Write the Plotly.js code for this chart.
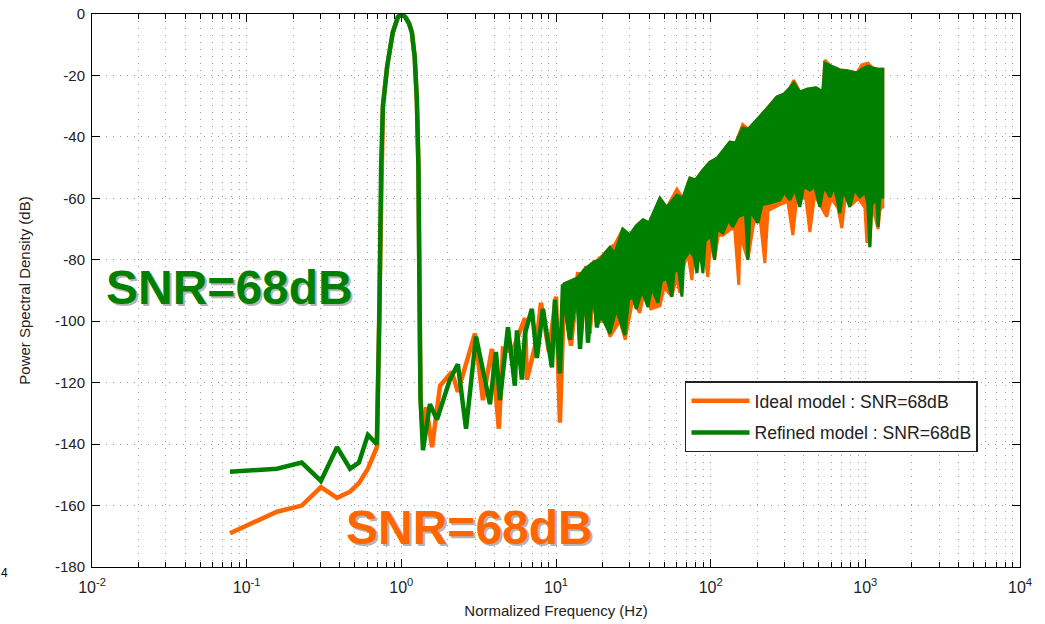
<!DOCTYPE html>
<html>
<head>
<meta charset="utf-8">
<script src="https://cdn.plot.ly/plotly-3.0.1.min.js"></script>
<style>html,body{margin:0;padding:0;background:#fff;}#chart{width:1045px;height:624px;}</style>
</head>
<body>
<div id="chart"></div>
<script>
// ---- Data ----
// Ideal model: line part (low frequencies, tone, sparse noise)
const idealFreq = [0.078, 0.157, 0.227, 0.302, 0.384, 0.466, 0.532, 0.608, 0.695, 0.72, 0.74, 0.76, 0.81, 0.88, 0.95, 1.0, 1.06, 1.12, 1.17, 1.22, 1.26, 1.29, 1.31, 1.33, 1.38, 1.45, 1.58, 1.78, 2.12, 2.32, 2.99, 3.37, 3.85, 4.27, 4.54, 5.2, 6.3, 6.48, 7.5, 8.0, 9.0, 10.0, 10.6, 11.3, 12.5, 13.9, 14.5, 15.7, 16.5, 17.8, 18.4, 19.2];
const idealPsd  = [-169, -162, -160, -154, -157.5, -155.5, -152.7, -148, -141, -100, -50, -30, -17, -6, -1, 0, -1, -3, -6, -14, -28, -50, -90, -125, -138, -128, -141, -121, -116.5, -123, -104, -125.7, -109, -135, -109, -110, -99, -119, -106, -94, -110, -92, -133, -90, -108, -84, -105, -82, -104, -80, -99, -79];
// Ideal model: dense band (upper and lower envelopes)
const idealTopFreq = [11.1, 13.7, 15.4, 17.3, 19.2, 22.3, 24, 27, 30, 33, 36.5, 40, 47, 52, 60.5, 66, 73.4, 80, 89.1, 98.9, 110, 133, 145, 161, 175, 199, 230, 268, 300, 325, 345, 377, 420, 480, 531, 547, 600, 684, 760, 881, 950, 1040, 1117, 1200, 1297];
const idealTopPsd  = [-88, -86, -83, -81, -79.5, -76, -75, -70, -72, -69, -67, -68, -60, -63, -57, -60, -53.4, -54, -50.8, -48.2, -47, -41.7, -42, -36, -37.5, -34.5, -31, -27, -26, -24.1, -21.5, -25.4, -24.5, -24, -25.4, -15, -17, -18.2, -18.5, -19.2, -16.5, -16, -17.6, -18, -18];
const idealBotFreq = [11.1, 12.5, 13.9, 14.5, 15.7, 16.5, 17.8, 18.4, 19.5, 20.7, 22.3, 25.9, 28, 31.4, 34.8, 37, 41, 47.0, 50, 56.1, 60, 63.2, 66, 71.3, 75.6, 78, 85.1, 90, 95.9, 100, 106, 112, 120, 135, 143, 152, 155, 174, 190, 208, 224, 235, 280, 315, 340, 360, 412, 438, 470, 508, 563, 600, 664, 705, 740, 818, 900, 993, 1023, 1038, 1069, 1102, 1210, 1241, 1276, 1297];
const idealBotPsd  = [-92, -108, -88, -105, -86, -104, -88, -99, -100, -98.6, -105, -100, -106, -93, -97.3, -91, -96, -95, -89, -92, -86, -90.8, -83, -78, -86.6, -78, -80, -76, -85.6, -74, -80, -72, -72, -70, -70, -88.2, -72, -80, -68, -66, -81.1, -64, -62, -61, -72, -60, -60, -71, -59, -62, -66, -60, -63, -69.7, -60, -62, -60, -63, -74.5, -62, -76, -62, -70, -64, -62.8, -62.8];

// Refined model: line part
const refinedFreq = [0.078, 0.157, 0.227, 0.302, 0.384, 0.466, 0.532, 0.608, 0.695, 0.72, 0.74, 0.76, 0.81, 0.88, 0.95, 1.0, 1.06, 1.12, 1.17, 1.22, 1.26, 1.29, 1.31, 1.33, 1.38, 1.53, 1.70, 2.06, 2.32, 2.62, 3.04, 3.74, 4.09, 4.34, 4.89, 5.42, 5.59, 6.02, 6.30, 6.98, 7.53, 8.23, 9.41, 9.84, 10.6, 11.1, 12.3, 13.7, 14.3, 15.4, 16.1, 17.3, 18.4, 19.2];
const refinedPsd  = [-149, -148, -146, -152, -141, -148, -146, -137, -140, -100, -50, -30, -17, -6, -1, 0, -1, -3, -6, -14, -28, -50, -90, -125, -142, -127, -132, -119, -114, -135, -105, -127, -110, -125.7, -102, -121, -103, -119, -104, -96, -112, -96, -115, -93, -117, -88, -106, -86, -109, -83, -107, -81, -102, -80];
// Refined model: dense band
const refinedTopFreq = [11.1, 13.7, 15.4, 17.3, 19.2, 22.3, 24, 27, 30, 33, 36.5, 40, 47, 52, 60.5, 66, 73.4, 80, 89.1, 98.9, 110, 133, 145, 161, 175, 199, 230, 268, 300, 325, 345, 377, 420, 480, 531, 547, 600, 684, 760, 881, 950, 1040, 1117, 1200, 1297];
const refinedTopPsd  = [-88, -86, -83, -81, -80, -76, -78, -70, -72, -69, -67, -68, -60, -63, -59, -60, -53.4, -54, -50.8, -48.2, -47, -41.7, -42, -37.1, -37.5, -34.5, -31, -27, -26, -24.1, -22.5, -25.4, -24.5, -24, -25.4, -16, -17, -18.2, -18.5, -19.2, -18, -17, -17.6, -18, -18];
const refinedBotFreq = [11.1, 12.3, 13.7, 14.3, 15.4, 16.1, 17.3, 18.4, 19.5, 22.3, 24.5, 27.9, 29.5, 31.4, 33, 36, 39.3, 41.5, 45.6, 48, 52, 56.1, 58, 62, 65.2, 67, 73.4, 78, 81.5, 85, 89.1, 92, 100, 106, 110, 120, 130, 139, 150, 168, 174, 180, 202, 215, 241, 280, 300, 325, 350, 377, 400, 438, 470, 508, 540, 590, 630, 684, 720, 794, 850, 921, 1000, 1038, 1069, 1102, 1180, 1210, 1240, 1276, 1297];
const refinedBotPsd  = [-92, -106, -90, -109, -88, -107, -90, -102, -98, -104, -96, -104.5, -93, -92, -96, -90, -95.4, -89, -94, -87, -86, -92, -84, -83, -92, -80, -77, -79, -84.3, -76, -84.3, -74, -72, -80, -70, -71.3, -67, -69.3, -66, -65, -80, -64, -68, -62, -61.5, -60.5, -58, -60.5, -57, -62.8, -56, -57.3, -56, -62.8, -56, -59.6, -56, -64.8, -57, -62.8, -57, -59.6, -58, -62, -75.8, -62, -60, -69.3, -60, -59.6, -59.6];

// Axis ticks
const xTickVals = [0.01, 0.1, 1, 10, 100, 1000, 10000];
const xTickText = ['10<sup>-2</sup>', '10<sup>-1</sup>', '10<sup>0</sup>', '10<sup>1</sup>', '10<sup>2</sup>', '10<sup>3</sup>', '10<sup>4</sup>'];
const yTickVals = [-180, -160, -140, -120, -100, -80, -60, -40, -20, 0];
const yTickText = ['-180', '-160', '-140', '-120', '-100', '-80', '-60', '-40', '-20', '0'];

const seriesNames = ['Ideal model : SNR=68dB', 'Refined model : SNR=68dB'];
const annotationText = 'SNR=68dB';

// ---- Styling ----
const ORANGE = '#ff6600';
const GREEN = '#008000';
const FONT = 'Liberation Sans, Arial, Helvetica, sans-serif';

function band(topF, topP, botF, botP) {
  return {
    x: topF.concat(botF.slice().reverse()),
    y: topP.concat(botP.slice().reverse())
  };
}
const ib = band(idealTopFreq, idealTopPsd, idealBotFreq, idealBotPsd);
const rb = band(refinedTopFreq, refinedTopPsd, refinedBotFreq, refinedBotPsd);

const traces = [
  {x: idealFreq, y: idealPsd, type: 'scatter', mode: 'lines', name: seriesNames[0], legendgroup: 'a',
   line: {color: ORANGE, width: 4.5}},
  {x: ib.x, y: ib.y, type: 'scatter', mode: 'lines', fill: 'toself', fillcolor: ORANGE, showlegend: false,
   legendgroup: 'a', line: {color: ORANGE, width: 3}},
  {x: refinedFreq, y: refinedPsd, type: 'scatter', mode: 'lines', name: seriesNames[1], legendgroup: 'b',
   line: {color: GREEN, width: 4.5}},
  {x: rb.x, y: rb.y, type: 'scatter', mode: 'lines', fill: 'toself', fillcolor: GREEN, showlegend: false,
   legendgroup: 'b', line: {color: GREEN, width: 3}}
];

const gridStyle = {gridcolor: '#9a9a9a', griddash: '1px,6px', gridwidth: 1};

function snr(x, y, color) {
  const base = {xref: 'paper', yref: 'paper', x: x, y: y, text: '<b>' + annotationText + '</b>',
                showarrow: false, xanchor: 'center', yanchor: 'middle'};
  return [
    Object.assign({}, base, {xshift: 2, yshift: -2, font: {family: FONT, size: 48, color: '#b4b4b4'}}),
    Object.assign({}, base, {font: {family: FONT, size: 48, color: color}})
  ];
}

const layout = {
  width: 1045, height: 624,
  margin: {l: 92, r: 25, t: 14, b: 57},
  paper_bgcolor: '#fff', plot_bgcolor: '#fff',
  font: {family: FONT, color: '#222', size: 15},
  showlegend: true,
  legend: {
    x: 0.639, y: 0.336, xanchor: 'left', yanchor: 'top',
    bgcolor: '#fff', bordercolor: '#222', borderwidth: 1.5,
    font: {family: FONT, size: 17.6, color: '#222'},
    traceorder: 'grouped', tracegroupgap: 6, itemwidth: 58
  },
  xaxis: Object.assign({
    type: 'log', range: [-2, 4],
    tickmode: 'array', tickvals: xTickVals, ticktext: xTickText,
    ticks: 'inside', ticklen: 8, tickcolor: '#000', tickwidth: 1,
    showline: true, linecolor: '#000', linewidth: 1, mirror: 'allticks',
    showgrid: true, zeroline: false, ticklabelstandoff: 6,
    tickfont: {family: FONT, size: 16, color: '#222'},
    title: {text: 'Normalized Frequency (Hz)', font: {family: FONT, size: 15, color: '#222'}, standoff: 10},
    minor: {dtick: 'D1', ticks: 'inside', ticklen: 5, tickcolor: '#000', showgrid: true,
            gridcolor: '#9a9a9a', griddash: '1px,6px', gridwidth: 1}
  }, gridStyle),
  yaxis: Object.assign({
    range: [-180, 0],
    tickmode: 'array', tickvals: yTickVals, ticktext: yTickText,
    ticks: 'inside', ticklen: 8, tickcolor: '#000', tickwidth: 1,
    showline: true, linecolor: '#000', linewidth: 1, mirror: 'allticks',
    showgrid: true, zeroline: false, ticklabelstandoff: 3,
    tickfont: {family: FONT, size: 15, color: '#222'},
    title: {text: 'Power Spectral Density (dB)', font: {family: FONT, size: 15, color: '#222'}, standoff: 20}
  }, gridStyle),
  annotations: snr(0.1487, 0.506, GREEN).concat(snr(0.407, 0.072, ORANGE)).concat([
    {xref: 'paper', yref: 'paper', x: -0.0938, y: -0.011, text: '4', showarrow: false,
     xanchor: 'center', yanchor: 'middle', font: {family: FONT, size: 12, color: '#000'}}
  ])
};

Plotly.newPlot('chart', traces, layout, {staticPlot: true, displayModeBar: false});
</script>
</body>
</html>
